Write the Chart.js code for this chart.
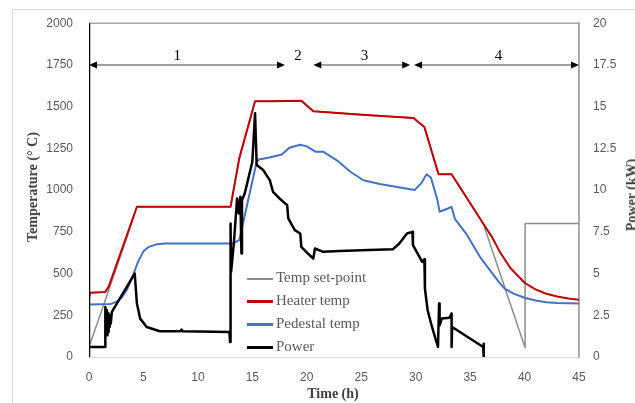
<!DOCTYPE html>
<html>
<head>
<meta charset="utf-8">
<script src="https://cdn.jsdelivr.net/npm/chart.js@4.4.1/dist/chart.umd.min.js"></script>
<style>
  body { margin: 0; background: #fff; }
  #wrap { position: relative; width: 635px; height: 403px; overflow: hidden; }
  #frame { position: absolute; left: 12px; top: 9px; width: 700px; height: 500px; border: 1px solid #d9d9d9; }
  canvas { position: absolute; left: 0; top: 0; }
  .title { position: absolute; font-family: "Liberation Serif", serif; font-weight: bold; font-size: 14px; color: #404040; white-space: nowrap; }
  .legend { position: absolute; left: 247px; top: 266px; font-family: "Liberation Serif", serif; font-size: 15px; color: #595959; }
  .legend div { height: 23px; line-height: 23px; white-space: nowrap; }
  .legend span { display: inline-block; width: 26px; vertical-align: middle; margin-right: 3px; }
</style>
</head>
<body>
<div id="wrap">
  <div id="frame"></div>
  <canvas id="chart" width="635" height="403"></canvas>
  <div class="title" style="left:333px; top:394px; transform:translate(-50%,-50%);">Time (h)</div>
  <div class="title" style="left:33px; top:187px; transform:translate(-50%,-50%) rotate(-90deg);">Temperature (° C)</div>
  <div class="title" style="left:632px; top:195px; transform:translate(-50%,-50%) rotate(-90deg);">Power (kW)</div>
  <div class="legend" id="legend"></div>
</div>
<script>
// time (h), value pairs
var setPoint = [[0,60],[3.4,700],[4.4,900],[13,900],[13.8,1190],[15.25,1532],[19.5,1536],[20.6,1473],
  [29.8,1432],[30.8,1378],[32.1,1095],[33.3,1095],[36.2,800],[40.05,55],[40.05,800],[45,800]]

var heaterTemp = [[0,350],[0.1,385],[1.5,390],[1.8,420],[4.4,900],[13,900],[13.8,1190],[15.25,1532],
  [17,1532],[19.5,1536],[20.6,1473],[25,1452],[29.8,1432],[30.8,1378],[32.1,1095],[33.3,1095],
  [36.2,800],[37,720],[37.7,633],[38.7,533],[40,445],[41,405],[42,379],[43,362],[44,350],[45,343]]

var pedestalTemp = [[0,315],[2,318],[2.5,330],[3,355],[3.5,405],[4.1,500],[4.5,570],[5,633],[5.5,660],
  [6.2,675],[7,680],[13.2,680],[13.8,700],[15.4,1170],[15.6,1183],[16.6,1195],[17.7,1213],[18.4,1254],
  [19.4,1272],[20.0,1262],[20.8,1230],[21.5,1230],[22.8,1177],[24,1110],[25.2,1059],[26.7,1036],
  [29.9,1000],[30.5,1040],[31,1095],[31.4,1075],[32,940],[32.2,870],[32.9,888],[33.3,899],[33.6,828],
  [34.7,733],[35.9,600],[37.7,444],[38.2,408],[39,380],[40,355],[41,338],[42,328],[43,323],[45,320]]

var power = [[0,0],[0,20],[0,0.6],[1.5,0.6],[1.5,3.0],[1.6,2.0],[1.65,2.8],[1.7,1.3],[1.75,2.6],[1.8,1.5],
  [1.85,2.5],[1.9,1.8],[1.95,2.4],[2.0,2.0],[2.1,2.7],[4.2,5.0],[4.4,3.2],[4.7,2.3],[5.3,1.8],[6.5,1.54],
  [8.4,1.54],[8.5,1.65],[8.6,1.54],[12.9,1.5],[12.95,0.9],[13.0,8.0],[13.05,5.1],[13.3,6.8],[13.6,9.5],
  [13.75,8.6],[13.9,9.6],[14.0,6.2],[14.05,9.4],[14.3,9.8],[15.0,11.7],[15.25,14.6],[15.4,11.5],[16.0,11.2],
  [16.6,10.6],[16.9,9.9],[17.5,9.5],[18.2,9.1],[18.3,8.3],[18.9,7.6],[19.4,7.4],[19.5,6.6],[20.1,6.2],
  [20.6,5.9],[20.75,6.5],[21.5,6.3],[23,6.35],[25,6.4],[27.9,6.45],[28.5,6.8],[29.2,7.4],[29.7,7.5],
  [29.75,6.7],[30.6,5.7],[30.8,5.85],[30.85,4.1],[31.1,2.8],[31.5,1.8],[32.05,0.6],[32.15,3.2],[32.2,1.9],
  [32.4,2.3],[33.1,2.35],[33.3,2.6],[33.3,0.6],[33.35,1.8],[36.2,0.6],[36.25,0.8],[36.25,0]]

var seriesNames = ['Temp set-point', 'Heater temp', 'Pedestal temp', 'Power']
var seriesColors = ['#8c8c8c', '#c00000', '#4472c4', '#000000']

// process phases shown with arrows at 1750 °C
var phaseLabels = ['1', '2', '3', '4']
var phaseLabelX = [8.1, 19.2, 25.3, 37.6]
var phaseArrows = [[0, 18], [20.6, 29.5], [29.85, 45]]
var phaseY = 1750

function toXY(pts) {
    return pts.map(function(p) { return {x: p[0], y: p[1]} })
}

function arrowHead(ctx, x, y, dir) {
    ctx.beginPath()
    ctx.moveTo(x, y)
    ctx.lineTo(x - dir * 8, y - 3.5)
    ctx.lineTo(x - dir * 8, y + 3.5)
    ctx.closePath()
    ctx.fill()
}

var phasePlugin = {
    id: 'phases',
    beforeDatasetsDraw: function(chart) {
        var ctx = chart.ctx, a = chart.chartArea
        ctx.save()
        ctx.strokeStyle = '#a6a6a6'
        ctx.lineWidth = 1.5
        ctx.beginPath()
        ctx.moveTo(a.left, a.top)
        ctx.lineTo(a.right, a.top)
        ctx.lineTo(a.right, a.bottom)
        ctx.stroke()
        ctx.restore()
    },
    afterDatasetsDraw: function(chart) {
        var ctx = chart.ctx
        var xs = chart.scales.x, ys = chart.scales.y
        var y = ys.getPixelForValue(phaseY)
        ctx.save()
        phaseArrows.forEach(function(seg) {
            var x0 = xs.getPixelForValue(seg[0]), x1 = xs.getPixelForValue(seg[1])
            ctx.strokeStyle = '#808080'
            ctx.lineWidth = 1.5
            ctx.beginPath()
            ctx.moveTo(x0 + 4, y)
            ctx.lineTo(x1 - 4, y)
            ctx.stroke()
            ctx.fillStyle = '#000'
            arrowHead(ctx, x0, y, -1)
            arrowHead(ctx, x1, y, 1)
        })
        ctx.fillStyle = '#000'
        ctx.font = '15px "Liberation Serif", serif'
        ctx.textAlign = 'center'
        ctx.textBaseline = 'middle'
        phaseLabels.forEach(function(t, i) {
            ctx.fillText(t, xs.getPixelForValue(phaseLabelX[i]), y - 9)
        })
        ctx.restore()
    }
}

var allSeries = [setPoint, heaterTemp, pedestalTemp, power]
var widths = [1.5, 2, 2, 2.5]
var datasets = allSeries.map(function(s, i) {
    return {
        label: seriesNames[i],
        data: toXY(s),
        borderColor: seriesColors[i],
        backgroundColor: seriesColors[i],
        borderWidth: widths[i],
        pointRadius: 0,
        tension: 0,
        borderJoinStyle: 'round',
        yAxisID: i == 3 ? 'y2' : 'y',
        order: 4 - i
    }
})

var tickFont = {family: '"Liberation Sans", sans-serif', size: 12}
function plain(v) { return String(v) }

new Chart(document.getElementById('chart'), {
    type: 'line',
    data: {datasets: datasets},
    options: {
        responsive: false,
        animation: false,
        devicePixelRatio: 1,
        layout: {padding: {top: 19, left: 0, right: 0, bottom: 0}},
        plugins: {legend: {display: false}, tooltip: {enabled: false}},
        scales: {
            x: {
                type: 'linear', min: 0, max: 45,
                ticks: {stepSize: 5, color: '#595959', font: tickFont, padding: 13, maxRotation: 0, callback: plain},
                grid: {display: false, drawTicks: false},
                border: {color: '#d9d9d9', width: 1},
                afterFit: function(s) { s.height = 46 }
            },
            y: {
                position: 'left', min: 0, max: 2000,
                ticks: {stepSize: 250, color: '#595959', font: tickFont, padding: 16, callback: plain},
                grid: {display: false, drawTicks: false},
                border: {color: '#d9d9d9', width: 1},
                afterFit: function(s) { s.width = 89 }
            },
            y2: {
                position: 'right', min: 0, max: 20,
                ticks: {stepSize: 2.5, color: '#595959', font: tickFont, padding: 14, callback: plain},
                grid: {display: false, drawTicks: false},
                border: {color: '#a6a6a6', width: 1.5},
                afterFit: function(s) { s.width = 56 }
            }
        }
    },
    plugins: [phasePlugin]
})

// legend drawn in the chart area, as in the figure
var legend = document.getElementById('legend')
seriesNames.forEach(function(n, i) {
    var row = document.createElement('div')
    var sw = document.createElement('span')
    sw.style.borderTop = (i == 0 ? 2 : 3) + 'px solid ' + seriesColors[i]
    row.appendChild(sw)
    row.appendChild(document.createTextNode(n))
    legend.appendChild(row)
})
</script>
</body>
</html>
